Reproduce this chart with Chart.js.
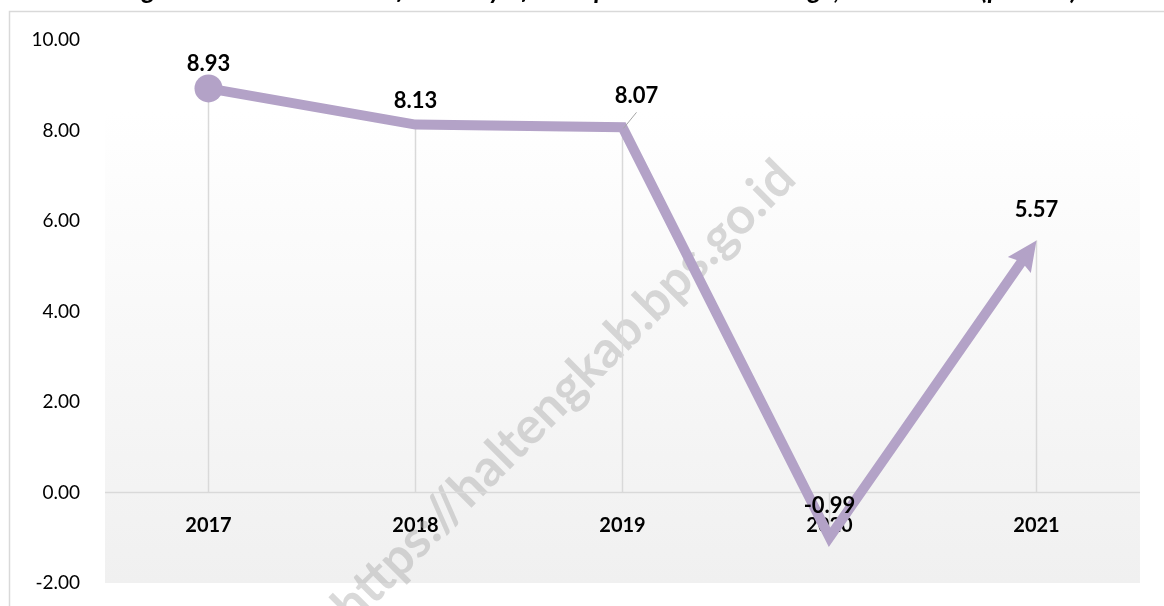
<!DOCTYPE html>
<html>
<head>
<meta charset="utf-8">
<script src="https://cdn.jsdelivr.net/npm/chart.js@4.4.1/dist/chart.umd.min.js"></script>
<style>
    html, body { margin: 0; padding: 0; background: #ffffff; overflow: hidden; }
    #growthChart { display: block; }
</style>
</head>
<body>
<canvas id="growthChart" width="1164" height="606"></canvas>
<script>
// chart data
const years = ['2017', '2018', '2019', '2020', '2021'];
const growthRate = [8.93, 8.13, 8.07, -0.99, 5.57];
const yMin = -2;
const yMax = 10;
const yStep = 2;
const titleText = 'Figure 4.2 Growth Rate of Industry of Transportation and Storage, 2017-2021 (percent)';
const watermarkText = 'https://haltengkab.bps.go.id';

const lineColor = '#b3a2c7';
const fontFamily = 'Lato, "Open Sans", sans-serif';

// frame, background, title, drop lines, watermark, arrow and value labels
const decorPlugin = {
    id: 'decor',
    beforeDraw(chart) {
        const c = chart.ctx;
        const area = chart.chartArea;
        c.save();

        // outer frame (runs off the right and bottom edges)
        c.strokeStyle = '#d9d9d9';
        c.lineWidth = 1.5;
        c.strokeRect(9.5, 11.5, chart.width + 50, chart.height + 50);

        // plot background gradient
        const top = area.top + 71;
        const grad = c.createLinearGradient(0, top, 0, area.bottom);
        grad.addColorStop(0, '#ffffff');
        grad.addColorStop(1, '#f0f0f0');
        c.fillStyle = grad;
        c.fillRect(area.left, top, area.right - area.left, area.bottom - top);

        // title, mostly cut off by the top edge
        c.fillStyle = '#000000';
        c.font = 'italic bold 26px ' + fontFamily;
        c.textAlign = 'center';
        c.textBaseline = 'alphabetic';
        c.fillText(titleText, 600, -1.5);
        c.restore();
    },
    beforeDatasetsDraw(chart) {
        const c = chart.ctx;
        const area = chart.chartArea;
        const yScale = chart.scales.y;
        const zeroY = yScale.getPixelForValue(0);
        const meta = chart.getDatasetMeta(0);
        c.save();

        // watermark
        c.translate(564, 392);
        c.rotate(-Math.PI / 4);
        c.fillStyle = 'rgba(160,160,160,0.4)';
        c.font = 'bold 51px ' + fontFamily;
        c.textAlign = 'center';
        c.textBaseline = 'middle';
        c.fillText(watermarkText, 0, 0);
        c.setTransform(1, 0, 0, 1, 0, 0);

        // zero line
        c.strokeStyle = '#d9d9d9';
        c.lineWidth = 1.5;
        c.beginPath();
        c.moveTo(area.left, zeroY);
        c.lineTo(area.right, zeroY);
        c.stroke();

        // drop lines from each point to the zero line
        meta.data.forEach(pt => {
            c.beginPath();
            c.moveTo(pt.x, pt.y);
            c.lineTo(pt.x, zeroY);
            c.stroke();
        });
        c.restore();
    },
    beforeDatasetDraw(chart, args) {
        // keep the line out of the arrow tip
        const pts = args.meta.data;
        const tip = pts[pts.length - 1];
        const c = chart.ctx;
        c.save();
        c.beginPath();
        c.rect(0, 0, chart.width, chart.height);
        c.arc(tip.x, tip.y, 24, 0, Math.PI * 2, true);
        c.clip('evenodd');
    },
    afterDatasetDraw(chart, args) {
        const c = chart.ctx;
        c.restore();

        // arrow head at the last point
        const pts = args.meta.data;
        const tip = pts[pts.length - 1];
        const prev = pts[pts.length - 2];
        const ang = Math.atan2(tip.y - prev.y, tip.x - prev.x);
        const len = 30, half = 14, notch = 4;
        c.save();
        c.translate(tip.x, tip.y);
        c.rotate(ang);
        c.fillStyle = lineColor;
        c.beginPath();
        c.moveTo(0, 0);
        c.lineTo(-len, -half);
        c.lineTo(-len + notch, 0);
        c.lineTo(-len, half);
        c.closePath();
        c.fill();
        c.restore();
    },
    afterDatasetsDraw(chart, args, opts) {
        const c = chart.ctx;
        const meta = chart.getDatasetMeta(0);
        const values = chart.data.datasets[0].data;
        c.save();
        c.fillStyle = '#000000';
        c.font = 'bold 22px ' + fontFamily;
        c.textAlign = 'center';
        c.textBaseline = 'middle';
        meta.data.forEach((pt, i) => {
            const off = opts.offsets[i];
            const lx = pt.x + off.dx;
            const ly = pt.y + off.dy;
            if (off.leader) {
                c.strokeStyle = '#a6a6a6';
                c.lineWidth = 1;
                c.beginPath();
                c.moveTo(pt.x + 1, pt.y + 1);
                c.lineTo(lx, ly + 16);
                c.stroke();
            }
            c.fillText(values[i].toFixed(2), lx, ly);
        });
        c.restore();
    }
};

const chart = new Chart(document.getElementById('growthChart'), {
    type: 'line',
    data: {
        labels: years,
        datasets: [{
            data: growthRate,
            borderColor: lineColor,
            backgroundColor: lineColor,
            borderWidth: 10,
            borderCapStyle: 'butt',
            borderJoinStyle: 'miter',
            tension: 0,
            pointRadius: (ctx) => ctx.dataIndex === 0 ? 14 : 0,
            pointBorderWidth: 0,
            pointHoverRadius: 0
        }]
    },
    options: {
        responsive: false,
        animation: false,
        events: [],
        layout: { padding: { top: 40, bottom: 23, right: 24, left: 0 } },
        plugins: {
            legend: { display: false },
            tooltip: { enabled: false },
            decor: {
                offsets: [
                    { dx: 0, dy: -25 },
                    { dx: 0, dy: -24 },
                    { dx: 14, dy: -31, leader: true },
                    { dx: 0, dy: -31 },
                    { dx: 0, dy: -31 }
                ]
            }
        },
        scales: {
            x: {
                position: { y: 0 },
                offset: true,
                z: 1,
                grid: { display: false, drawTicks: false },
                border: { display: false },
                afterFit(scale) { scale.height = 0; },
                ticks: {
                    color: '#000000',
                    padding: 21,
                    maxRotation: 0,
                    font: { family: fontFamily, size: 20, weight: 'bold' }
                }
            },
            y: {
                min: yMin,
                max: yMax,
                grid: { display: false, drawTicks: false },
                border: { display: false },
                afterFit(scale) {
                    // fixed axis width; the layout padding handles top and bottom
                    scale.width = 105;
                    scale.paddingTop = 0;
                    scale.paddingBottom = 0;
                },
                ticks: {
                    stepSize: yStep,
                    padding: 25,
                    color: '#000000',
                    font: { family: fontFamily, size: 19 },
                    callback: (v) => Number(v).toFixed(2)
                }
            }
        }
    },
    plugins: [decorPlugin]
});
</script>
</body>
</html>
